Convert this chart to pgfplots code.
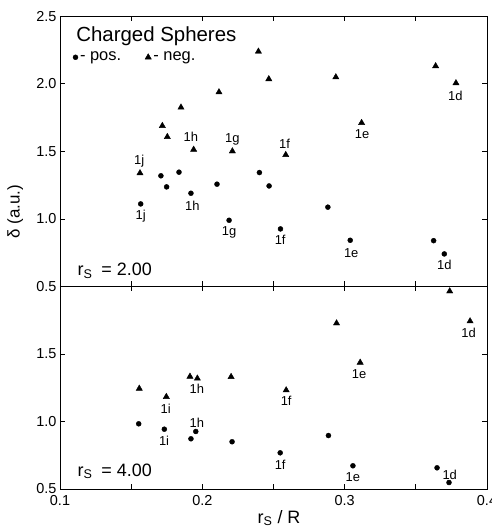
\documentclass[border=0pt]{standalone}
\usepackage{pgfplots}
\pgfplotsset{compat=1.18}
\usepackage{fontspec}
\setmainfont{Liberation Sans}
\newcommand{\lbl}{\fontsize{13}{14}\selectfont}
\begin{document}
\begin{tikzpicture}
\pgfplotsset{
  panel/.style={
    scale only axis, width=427bp, xmin=0.1, xmax=0.4, clip=false,
    axis line style={line width=0.8bp},
    every tick/.style={line width=0.7bp, black},
    major tick length=5bp, minor tick length=5bp,
    xtick={0.1,0.2,0.3,0.4}, minor xtick={0.15,0.25,0.35},
    tick align=inside,
    ticklabel style={font=\fontsize{14.5}{16}\selectfont},
    /pgf/number format/assume math mode=true,
    yticklabel style={/pgf/number format/.cd, fixed, fixed zerofill, precision=1},
    xticklabel style={yshift=-3bp, /pgf/number format/.cd, fixed, precision=1},
  },
  pos/.style={only marks, mark=*, mark size=2.5bp, black, mark options={solid}},
  neg/.style={only marks, mark=triangle*, mark size=3.6bp, black, mark options={solid}},
}
% ---------- bottom panel (r_s = 4.00) ----------
\begin{axis}[panel, name=bot, height=202.5bp, ymin=0.5, ymax=2.0,
  ytick={0.5,1.0,1.5}]
\addplot[pos] coordinates {(0.1553,0.983) (0.1733,0.943) (0.1920,0.872) (0.1954,0.926) (0.2209,0.850) (0.2547,0.768) (0.2886,0.896) (0.3058,0.672) (0.3649,0.657) (0.3733,0.548)};
\addplot[neg] coordinates {(0.1557,1.244) (0.1747,1.183) (0.1913,1.333) (0.1965,1.319) (0.2202,1.331) (0.2589,1.232) (0.2943,1.728) (0.3109,1.437) (0.3738,1.965) (0.3881,1.743)};
\begin{scope}[font=\lbl]
\node at (axis cs:0.1961,1.242) {1h};
\node at (axis cs:0.1742,1.094) {1i};
\node at (axis cs:0.1961,0.990) {1h};
\node at (axis cs:0.1731,0.854) {1i};
\node at (axis cs:0.2589,1.150) {1f};
\node at (axis cs:0.2547,0.681) {1f};
\node at (axis cs:0.3102,1.353) {1e};
\node at (axis cs:0.3058,0.587) {1e};
\node at (axis cs:0.3871,1.659) {1d};
\node at (axis cs:0.3738,0.602) {1d};
\end{scope}
\node[anchor=base west, font=\fontsize{18}{20}\selectfont] at (rel axis cs:0.033,0.064) {r\textsubscript{S}\hspace{9bp}= 4.00};
\node[anchor=base, font=\fontsize{18}{20}\selectfont] at (rel axis cs:0.513,-0.168) {r\textsubscript{S} / R};
\end{axis}
% ---------- top panel (r_s = 2.00) ----------
\begin{axis}[panel, at={(0,202.5bp)}, anchor=south west, height=270.3bp,
  ymin=0.5, ymax=2.5, ytick={0.5,1.0,1.5,2.0,2.5}, xticklabels={},
  legend style={draw=none, fill=none, at={(rel axis cs:0.03,0.848)}, anchor=west,
    legend columns=2, font=\fontsize{16.5}{18}\selectfont, inner sep=0pt,
    /tikz/every even column/.append style={column sep=22bp}},
  legend cell align=left,
  legend image code/.code={\draw[#1] plot coordinates {(0bp,0bp)};}]
\addplot[pos] coordinates {(0.1567,1.111) (0.1709,1.319) (0.1749,1.237) (0.1836,1.346) (0.1920,1.190) (0.2103,1.257) (0.2188,0.990) (0.2401,1.343) (0.2469,1.244) (0.2549,0.926) (0.2882,1.087) (0.3039,0.842) (0.3625,0.839) (0.3700,0.741)};
\addlegendentry{- pos.}
\addplot[neg] coordinates {(0.1562,1.339) (0.1719,1.689) (0.1754,1.607) (0.1850,1.825) (0.1939,1.513) (0.2117,1.938) (0.2211,1.501) (0.2394,2.239) (0.2467,2.035) (0.2586,1.474) (0.2938,2.049) (0.3119,1.711) (0.3639,2.131) (0.3782,2.005)};
\addlegendentry{- neg.}
\begin{scope}[font=\lbl]
\node at (axis cs:0.1557,1.430) {1j};
\node at (axis cs:0.1567,1.017) {1j};
\node at (axis cs:0.1920,1.605) {1h};
\node at (axis cs:0.1930,1.099) {1h};
\node at (axis cs:0.2211,1.585) {1g};
\node at (axis cs:0.2188,0.901) {1g};
\node at (axis cs:0.2577,1.553) {1f};
\node at (axis cs:0.2547,0.844) {1f};
\node at (axis cs:0.3123,1.630) {1e};
\node at (axis cs:0.3046,0.746) {1e};
\node at (axis cs:0.3778,1.913) {1d};
\node at (axis cs:0.3700,0.659) {1d};
\end{scope}
\node[anchor=base west, font=\fontsize{20.5}{22}\selectfont] at (rel axis cs:0.03,0.906) {Charged Spheres};
\node[anchor=base west, font=\fontsize{18}{20}\selectfont] at (rel axis cs:0.033,0.040) {r\textsubscript{S}\hspace{9bp}= 2.00};
\node[rotate=90, font=\fontsize{17}{19}\selectfont] at (rel axis cs:-0.105,0.277) {δ (a.u.)};
\end{axis}
\pgfresetboundingbox
\path[use as bounding box] (-60bp,-38bp) rectangle (432bp,489bp);
\end{tikzpicture}
\end{document}
